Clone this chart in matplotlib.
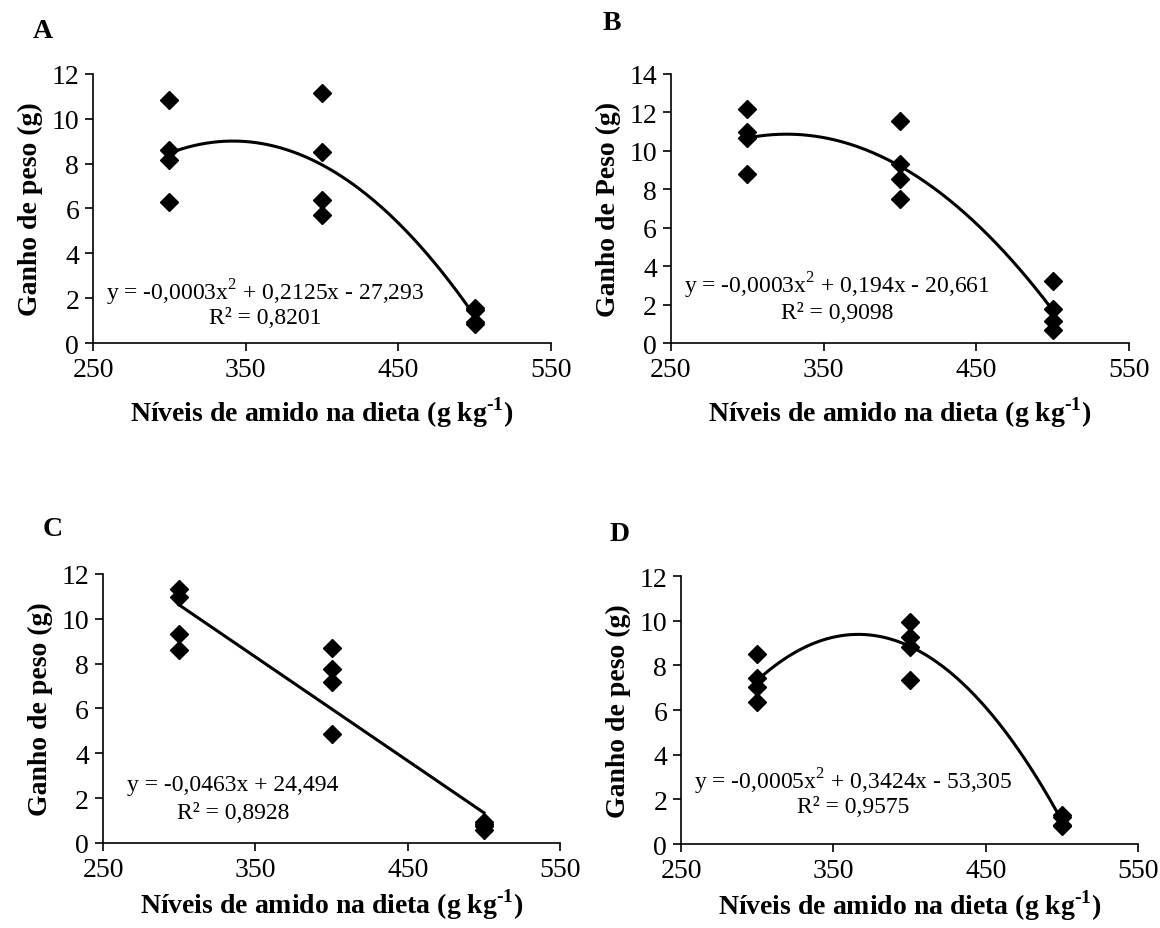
import numpy as np
import matplotlib
matplotlib.use("Agg")
import matplotlib.pyplot as plt

plt.rcParams["font.family"] = ["Liberation Serif", "DejaVu Serif"]
plt.rcParams["mathtext.fontset"] = "custom"
plt.rcParams["mathtext.rm"] = "Liberation Serif"
plt.rcParams["mathtext.bf"] = "Liberation Serif:bold"

# starch levels (g/kg), four replicates each
levels = [300, 300, 300, 300, 400, 400, 400, 400, 500, 500, 500, 500]

gain_a = [10.85, 8.6, 8.15, 6.27, 11.15, 8.54, 6.37, 5.73, 1.55, 1.45, 0.95, 0.85]
gain_b = [12.2, 11.0, 10.65, 8.82, 11.55, 9.29, 8.51, 7.47, 3.25, 1.79, 1.16, 0.66]
gain_c = [11.35, 10.95, 9.32, 8.6, 8.68, 7.74, 7.16, 4.85, 0.95, 0.85, 0.75, 0.6]
gain_d = [8.49, 7.42, 7.05, 6.35, 9.96, 9.28, 8.84, 7.35, 1.3, 1.2, 0.85, 0.8]

panel_letters = ["A", "B", "C", "D"]
ylabels = ["Ganho de peso (g)", "Ganho de Peso (g)", "Ganho de peso (g)", "Ganho de peso (g)"]
xlabel = "Níveis de amido na dieta (g kg$^{\\mathbf{\u2010}\\mathbf{1}}$)"
equations = [
    "y = -0,0003x$^{2}$ + 0,2125x - 27,293",
    "y = -0,0003x$^{2}$ + 0,194x - 20,661",
    "y = -0,0463x + 24,494",
    "y = -0,0005x$^{2}$ + 0,3424x - 53,305",
]
r2_labels = ["R² = 0,8201", "R² = 0,9098", "R² = 0,8928", "R² = 0,9575"]
fit_degree = [2, 2, 1, 2]
ymax = [12, 14, 12, 12]
xticks = [250, 350, 450, 550]

# layout (figure fractions) and text placement
rects = [
    [0.0802, 0.6297, 0.3948, 0.2896],
    [0.5784, 0.6297, 0.3948, 0.2896],
    [0.0888, 0.0915, 0.3940, 0.2896],
    [0.5871, 0.0904, 0.3940, 0.2885],
]
xlabel_pad = [9, 9, 3, 3]
eq_pos = [(362.7, 2.28, 1.16), (358.7, 3.02, 1.61), (335.3, 2.59, 1.38), (362.9, 2.82, 1.66)]
letter_pos = [(0.037, 0.966), (0.527, 0.975), (0.045, 0.43), (0.534, 0.425)]

fig = plt.figure(figsize=(11.6, 9.29), dpi=100)

all_gains = [gain_a, gain_b, gain_c, gain_d]
for i in range(4):
    ax = fig.add_axes(rects[i])
    x = np.array(levels, dtype=float)
    y = np.array(all_gains[i])

    coef = np.polyfit(x, y, fit_degree[i])
    xs = np.linspace(300, 500, 200)
    ax.plot(xs, np.polyval(coef, xs), color="black", lw=2.2, zorder=2)
    ax.plot(x, y, "D", color="black", ms=9.5, zorder=3)

    ax.set_xlim(250, 550)
    ax.set_ylim(0, ymax[i])
    ax.set_xticks(xticks)
    ax.set_yticks(np.arange(0, ymax[i] + 1, 2))
    for s in ["top", "right"]:
        ax.spines[s].set_visible(False)
    for s in ["left", "bottom"]:
        ax.spines[s].set_linewidth(1.2)
    ax.tick_params(direction="out", length=6, width=1.2, labelsize=20, pad=4)

    ax.set_ylabel(ylabels[i], fontsize=20, fontweight="bold", labelpad=6)
    ax.set_xlabel(xlabel, fontsize=20, fontweight="bold", labelpad=xlabel_pad[i])

    ex, ey, ry = eq_pos[i]
    ax.text(ex, ey, equations[i], fontsize=17, ha="center", va="center")
    ax.text(ex, ry, r2_labels[i], fontsize=17, ha="center", va="center")

    fig.text(letter_pos[i][0], letter_pos[i][1], panel_letters[i], fontsize=20,
             fontweight="bold", ha="center", va="center")

fig.savefig("out.png", dpi=100)
